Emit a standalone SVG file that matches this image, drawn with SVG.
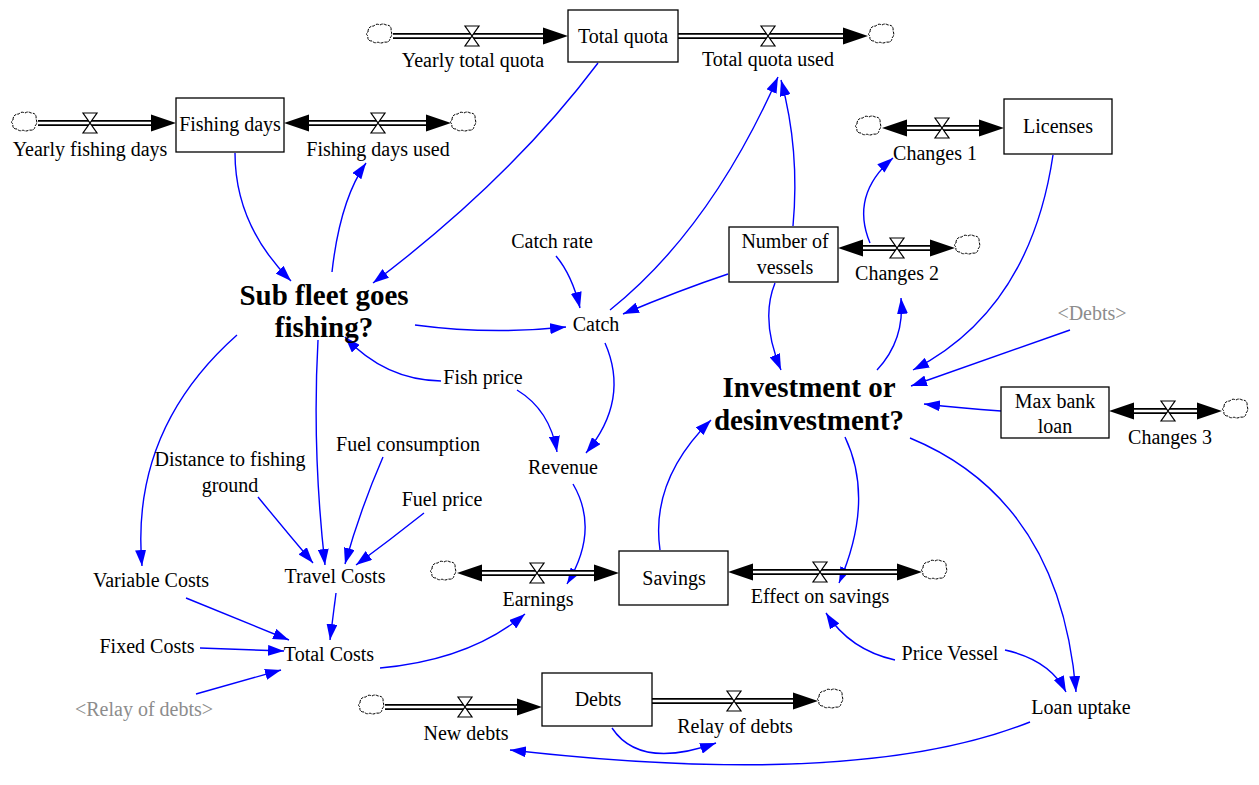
<svg xmlns="http://www.w3.org/2000/svg" xmlns:xlink="http://www.w3.org/1999/xlink" width="1259" height="785" viewBox="0 0 1259 785" font-family="'Liberation Serif', 'Times New Roman', 'DejaVu Serif', serif">
<style>
text{font-family:'Liberation Serif','Times New Roman','DejaVu Serif',serif;font-size:20px;fill:#000;text-anchor:middle}
.b{font-weight:bold;font-size:29px}
.g{fill:#8c8c8c}
.box{fill:#fff;stroke:#000;stroke-width:1.3}
.po{stroke:#000;stroke-width:6;fill:none}
.pi{stroke:#fff;stroke-width:2.4;fill:none}
.valve{fill:#fff;stroke:#000;stroke-width:1.2}
.cloud{fill:#fff;stroke:#000;stroke-width:1;stroke-dasharray:3 1}
.link{fill:none;stroke:#0000ff;stroke-width:1.4;marker-end:url(#ah)}
</style>
<defs>
<marker id="ah" viewBox="0 0 16 11" refX="16" refY="5.5" markerWidth="16" markerHeight="11" markerUnits="userSpaceOnUse" orient="auto">
<path d="M0,0 L16,5.5 L0,11 z" fill="#0000ff"/>
</marker>
<path id="fa" d="M-25,-8.5 L0,0 L-25,8.5 z" fill="#000"/>
<path id="vl" class="valve" d="M-7,-10 H7 L-7,10 H7 Z"/>
<path id="cl" class="cloud" d="M-12,-4 q0,-6 6,-6 q2,-3 6,-1 q3,-2 6,0 q6,0 5,6 q2,4 -1,7 q0,5 -6,4 q-3,2 -6,0 q-3,2 -6,-1 q-5,0 -4,-5 q-3,-2 0,-4 Z"/>
</defs>

<g id="connectors">
<path class="link" d="M598,63 Q510,180 373,283"/>
<path class="link" d="M235,153 Q235,225 291,281"/>
<path class="link" d="M332,272 Q340,200 366,163"/>
<path class="link" d="M556,256 Q572,275 580,308"/>
<path class="link" d="M415,325 Q490,335 566,327"/>
<path class="link" d="M728,274 Q680,290 623,314"/>
<path class="link" d="M610,310 Q710,230 778,77"/>
<path class="link" d="M793,226 Q800,150 781,80"/>
<path class="link" d="M870,243 Q850,195 893,158"/>
<path class="link" d="M1053,155 Q1030,310 913,370"/>
<path class="link" d="M775,283 Q760,320 781,370"/>
<path class="link" d="M877,370 Q905,340 901,298"/>
<path class="link" d="M1070,330 Q1000,355 911,386"/>
<path class="link" d="M1001,411 Q960,408 924,404"/>
<path class="link" d="M910,438 Q1060,500 1076,692"/>
<path class="link" d="M845,437 Q875,500 839,583"/>
<path class="link" d="M660,550 Q650,480 711,420"/>
<path class="link" d="M605,343 Q630,400 586,453"/>
<path class="link" d="M441,381 Q385,380 345,337"/>
<path class="link" d="M517,390 Q550,410 557,452"/>
<path class="link" d="M573,484 Q600,530 567,584"/>
<path class="link" d="M237,335 Q130,430 142,566"/>
<path class="link" d="M318,340 Q312,450 325,565"/>
<path class="link" d="M383,457 Q360,510 345,564"/>
<path class="link" d="M258,497 Q285,530 313,563"/>
<path class="link" d="M424,513 Q390,540 356,565"/>
<path class="link" d="M186,598 L289,640"/>
<path class="link" d="M200,648 L284,651"/>
<path class="link" d="M196,694 L281,670"/>
<path class="link" d="M336,593 L330,640"/>
<path class="link" d="M380,668 Q470,660 525,614"/>
<path class="link" d="M895,660 Q850,650 826,613"/>
<path class="link" d="M1005,650 Q1050,660 1066,692"/>
<path class="link" d="M1030,722 Q860,790 510,750"/>
<path class="link" d="M612,728 Q640,770 716,743"/>
</g>

<g id="flow-yearly-total-quota">
<use xlink:href="#cl" x="380" y="36"/>
<path class="po" d="M393,36 H545"/><path class="pi" d="M393,36 H545"/>
<use xlink:href="#fa" x="568" y="36"/>
<use xlink:href="#vl" x="472" y="36"/>
<text x="473" y="67">Yearly total quota</text>
</g>
<g id="flow-total-quota-used">
<path class="po" d="M678,36 H845"/><path class="pi" d="M678,36 H845"/>
<use xlink:href="#fa" x="868" y="36"/>
<use xlink:href="#cl" x="882" y="36"/>
<use xlink:href="#vl" x="768" y="36"/>
<text x="768" y="66">Total quota used</text>
</g>
<g id="stock-total-quota">
<rect class="box" x="568" y="10" width="110" height="52"/>
<text x="623" y="43">Total quota</text>
</g>

<g id="flow-yearly-fishing-days">
<use xlink:href="#cl" x="25" y="124"/>
<path class="po" d="M38,123 H153"/><path class="pi" d="M38,123 H153"/>
<use xlink:href="#fa" x="176" y="123"/>
<use xlink:href="#vl" x="90" y="123"/>
<text x="90" y="156">Yearly fishing days</text>
</g>
<g id="flow-fishing-days-used">
<path class="po" d="M306,123 H428"/><path class="pi" d="M306,123 H428"/>
<use xlink:href="#fa" transform="translate(284,123) rotate(180)"/>
<use xlink:href="#fa" x="451" y="123"/>
<use xlink:href="#cl" x="464" y="124"/>
<use xlink:href="#vl" x="378" y="123"/>
<text x="378" y="156">Fishing days used</text>
</g>
<g id="stock-fishing-days">
<rect class="box" x="176" y="98" width="108" height="54"/>
<text x="230" y="131">Fishing days</text>
</g>

<g id="flow-changes-1">
<use xlink:href="#cl" x="869" y="128"/>
<path class="po" d="M905,128 H981"/><path class="pi" d="M905,128 H981"/>
<use xlink:href="#fa" transform="translate(882,128) rotate(180)"/>
<use xlink:href="#fa" x="1004" y="128"/>
<use xlink:href="#vl" x="942" y="128"/>
<text x="935" y="160">Changes 1</text>
</g>
<g id="stock-licenses">
<rect class="box" x="1004" y="99" width="108" height="55"/>
<text x="1058" y="133">Licenses</text>
</g>

<g id="flow-changes-2">
<path class="po" d="M860,248 H932"/><path class="pi" d="M860,248 H932"/>
<use xlink:href="#fa" transform="translate(838,248) rotate(180)"/>
<use xlink:href="#fa" x="955" y="248"/>
<use xlink:href="#cl" x="968" y="247"/>
<use xlink:href="#vl" x="897" y="248"/>
<text x="897" y="280">Changes 2</text>
</g>
<g id="stock-number-of-vessels">
<rect class="box" x="729" y="227" width="109" height="55"/>
<text x="785" y="248">Number of</text>
<text x="785" y="274">vessels</text>
</g>

<g id="flow-changes-3">
<path class="po" d="M1131,411 H1199"/><path class="pi" d="M1131,411 H1199"/>
<use xlink:href="#fa" transform="translate(1109,411) rotate(180)"/>
<use xlink:href="#fa" x="1222" y="411"/>
<use xlink:href="#cl" x="1236" y="411"/>
<use xlink:href="#vl" x="1168" y="411"/>
<text x="1170" y="444">Changes 3</text>
</g>
<g id="stock-max-bank-loan">
<rect class="box" x="1001" y="387" width="108" height="51"/>
<text x="1055" y="408">Max bank</text>
<text x="1055" y="433">loan</text>
</g>

<g id="flow-earnings">
<use xlink:href="#cl" x="444" y="573"/>
<path class="po" d="M480,573 H596"/><path class="pi" d="M480,573 H596"/>
<use xlink:href="#fa" transform="translate(457,573) rotate(180)"/>
<use xlink:href="#fa" x="619" y="573"/>
<use xlink:href="#vl" x="537" y="573"/>
<text x="538" y="606">Earnings</text>
</g>
<g id="flow-effect-on-savings">
<path class="po" d="M750,572 H899"/><path class="pi" d="M750,572 H899"/>
<use xlink:href="#fa" transform="translate(728,572) rotate(180)"/>
<use xlink:href="#fa" x="922" y="572"/>
<use xlink:href="#cl" x="935" y="572"/>
<use xlink:href="#vl" x="820" y="572"/>
<text x="820" y="603">Effect on savings</text>
</g>
<g id="stock-savings">
<rect class="box" x="619" y="551" width="109" height="54"/>
<text x="674" y="585">Savings</text>
</g>

<g id="flow-new-debts">
<use xlink:href="#cl" x="372" y="707"/>
<path class="po" d="M385,707 H519"/><path class="pi" d="M385,707 H519"/>
<use xlink:href="#fa" x="542" y="707"/>
<use xlink:href="#vl" x="465" y="707"/>
<text x="466" y="740">New debts</text>
</g>
<g id="flow-relay-of-debts">
<path class="po" d="M652,701 H795"/><path class="pi" d="M652,701 H795"/>
<use xlink:href="#fa" x="818" y="701"/>
<use xlink:href="#cl" x="831" y="701"/>
<use xlink:href="#vl" x="734" y="701"/>
<text x="735" y="733">Relay of debts</text>
</g>
<g id="stock-debts">
<rect class="box" x="542" y="673" width="110" height="53"/>
<text x="598" y="706">Debts</text>
</g>

<g id="aux-sub-fleet"><text class="b" x="324" y="305">Sub fleet goes</text><text class="b" x="324" y="337">fishing?</text></g>
<g id="aux-investment"><text class="b" x="809" y="397">Investment or</text><text class="b" x="809" y="430">desinvestment?</text></g>
<g id="aux-catch-rate"><text x="552" y="248">Catch rate</text></g>
<g id="aux-catch"><text x="596" y="331">Catch</text></g>
<g id="aux-fish-price"><text x="483" y="384">Fish price</text></g>
<g id="aux-revenue"><text x="563" y="474">Revenue</text></g>
<g id="shadow-debts"><text class="g" x="1092" y="320">&lt;Debts&gt;</text></g>
<g id="aux-fuel-consumption"><text x="408" y="451">Fuel consumption</text></g>
<g id="aux-distance"><text x="230" y="466">Distance to fishing</text><text x="230" y="492">ground</text></g>
<g id="aux-fuel-price"><text x="442" y="506">Fuel price</text></g>
<g id="aux-variable-costs"><text x="151" y="587">Variable Costs</text></g>
<g id="aux-travel-costs"><text x="335" y="583">Travel Costs</text></g>
<g id="aux-fixed-costs"><text x="147" y="653">Fixed Costs</text></g>
<g id="aux-total-costs"><text x="329" y="661">Total Costs</text></g>
<g id="shadow-relay-of-debts"><text class="g" x="144" y="716">&lt;Relay of debts&gt;</text></g>
<g id="aux-price-vessel"><text x="950" y="660">Price Vessel</text></g>
<g id="aux-loan-uptake"><text x="1081" y="714">Loan uptake</text></g>
</svg>
